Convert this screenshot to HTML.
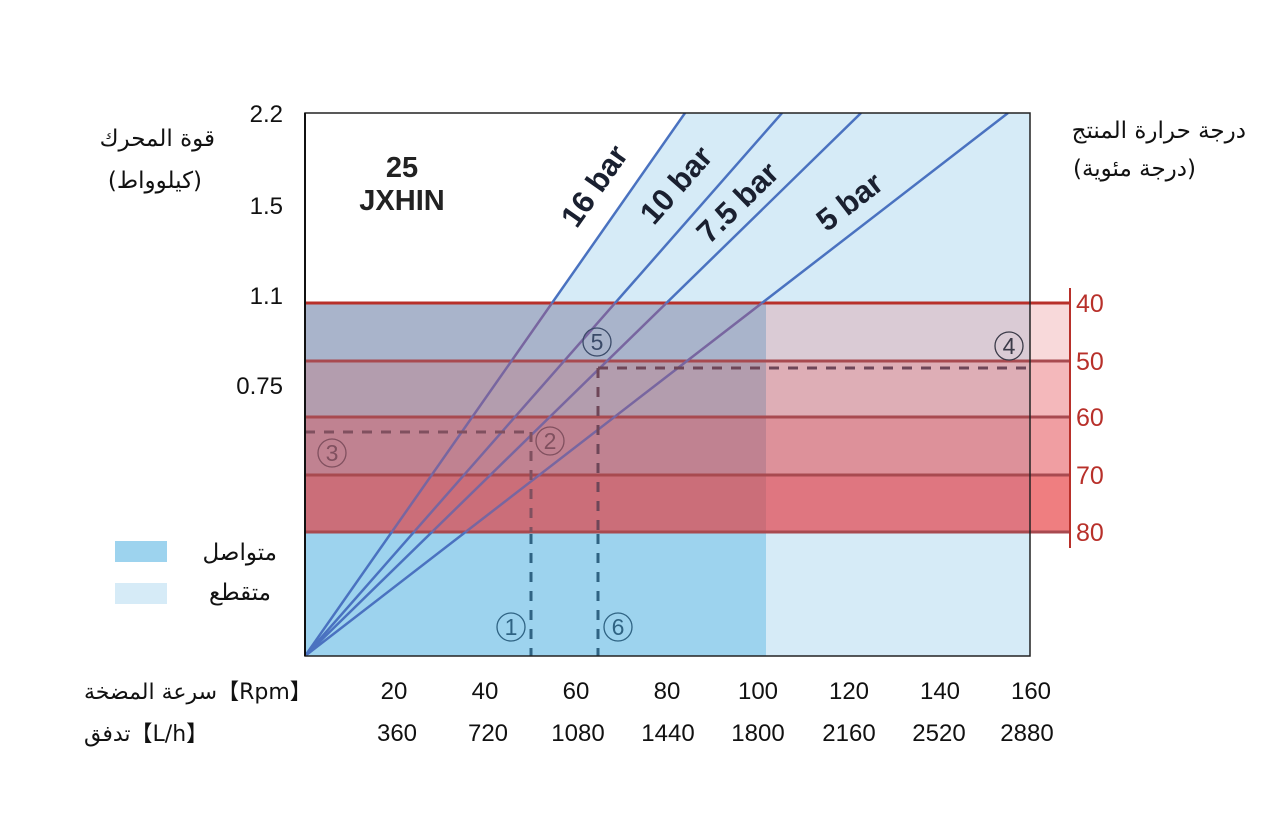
<!DOCTYPE html>
<html><head><meta charset="utf-8"><style>
html,body{margin:0;padding:0;background:#fff;}
svg{display:block;}
text{font-family:"Liberation Sans","DejaVu Sans",sans-serif;}
</style></head><body>
<svg width="1266" height="836" viewBox="0 0 1266 836" xmlns="http://www.w3.org/2000/svg">
<defs>
<clipPath id="pc"><rect x="305" y="113" width="725" height="543"/></clipPath>
<clipPath id="bandc"><rect x="305" y="303" width="725" height="229"/></clipPath>
<clipPath id="nobandc"><path d="M305 113H1030V303H305Z M305 532H1030V656H305Z"/></clipPath>
</defs>
<polygon points="305,656 685,113 1030,113 1030,656" fill="#d6ebf7"/>
<rect x="305" y="303" width="461" height="353" fill="#9dd3ee"/>
<rect x="305" y="303" width="461" height="58" fill="#a9b4cb"/>
<rect x="305" y="361" width="461" height="56" fill="#b39dae"/>
<rect x="305" y="417" width="461" height="58" fill="#c08291"/>
<rect x="305" y="475" width="461" height="57" fill="#cb6e79"/>
<rect x="766" y="303" width="264" height="58" fill="#dacbd5"/>
<rect x="766" y="361" width="264" height="56" fill="#deaeb6"/>
<rect x="766" y="417" width="264" height="58" fill="#dd919a"/>
<rect x="766" y="475" width="264" height="57" fill="#df7680"/>
<rect x="1030" y="303" width="40" height="58" fill="#f8d9da"/>
<rect x="1030" y="361" width="40" height="56" fill="#f4b8bb"/>
<rect x="1030" y="417" width="40" height="58" fill="#f09ea2"/>
<rect x="1030" y="475" width="40" height="57" fill="#ef7e80"/>
<g stroke-width="3">
<line x1="305" y1="303" x2="1070" y2="303" stroke="#b8302a"/>
<line x1="305" y1="361" x2="1070" y2="361" stroke="#a84a50"/>
<line x1="305" y1="417" x2="1070" y2="417" stroke="#a84a50"/>
<line x1="305" y1="475" x2="1070" y2="475" stroke="#a84a50"/>
<line x1="305" y1="532" x2="1070" y2="532" stroke="#a84a50"/>
</g>
<line x1="1070" y1="288" x2="1070" y2="548" stroke="#b8302a" stroke-width="2"/>
<g clip-path="url(#pc)" stroke-width="2.5" fill="none">
<g clip-path="url(#nobandc)" stroke="#4a72c0">
<line x1="305" y1="656" x2="685" y2="113"/>
<line x1="305" y1="656" x2="782" y2="113"/>
<line x1="305" y1="656" x2="861" y2="113"/>
<line x1="305" y1="656" x2="1008" y2="113"/>
</g>
<g clip-path="url(#bandc)" stroke="#7866a0">
<line x1="305" y1="656" x2="685" y2="113"/>
<line x1="305" y1="656" x2="782" y2="113"/>
<line x1="305" y1="656" x2="861" y2="113"/>
<line x1="305" y1="656" x2="1008" y2="113"/>
</g>
</g>
<g stroke-width="3" stroke-dasharray="10,9" fill="none">
<line x1="305" y1="432" x2="531" y2="432" stroke="#80505f"/>
<line x1="531" y1="432" x2="531" y2="532" stroke="#80505f"/>
<line x1="531" y1="534" x2="531" y2="656" stroke="#2f6383"/>
<line x1="598" y1="368" x2="1030" y2="368" stroke="#6e4658"/>
<line x1="598" y1="368" x2="598" y2="532" stroke="#6e4658"/>
<line x1="598" y1="534" x2="598" y2="656" stroke="#2f6383"/>
</g>
<rect x="305" y="113" width="725" height="543" fill="none" stroke="#222" stroke-width="1.5"/>
<line x1="305" y1="113" x2="305" y2="656" stroke="#111" stroke-width="2"/>
<g fill="none" stroke-width="1.3" font-size="23" text-anchor="middle">
<circle cx="511" cy="627" r="14" stroke="#2f6383"/><text x="511" y="635" fill="#2f6383" stroke="none">1</text>
<circle cx="618" cy="627" r="14" stroke="#2f6383"/><text x="618" y="635" fill="#2f6383" stroke="none">6</text>
<circle cx="550" cy="441" r="14" stroke="#80505f"/><text x="550" y="449" fill="#80505f" stroke="none">2</text>
<circle cx="332" cy="453" r="14" stroke="#80505f"/><text x="332" y="461" fill="#80505f" stroke="none">3</text>
<circle cx="597" cy="342" r="14" stroke="#3a4a68"/><text x="597" y="350" fill="#3a4a68" stroke="none">5</text>
<circle cx="1009" cy="346" r="14" stroke="#3a3a48"/><text x="1009" y="354" fill="#3a3a48" stroke="none">4</text>
</g>
<g font-size="31" font-weight="bold" fill="#1a2030" text-anchor="middle">
<text transform="translate(603,192) rotate(-55)">16 bar</text>
<text transform="translate(684,192) rotate(-48.7)">10 bar</text>
<text transform="translate(745,210) rotate(-44.4)">7.5 bar</text>
<text transform="translate(856,210) rotate(-37.7)">5 bar</text>
</g>
<text x="402" y="177" font-size="29" font-weight="bold" text-anchor="middle" fill="#222">25</text>
<text x="402" y="210" font-size="29" font-weight="bold" text-anchor="middle" fill="#222">JXHIN</text>
<g font-size="24" fill="#111" text-anchor="end">
<text x="283" y="122">2.2</text>
<text x="283" y="214">1.5</text>
<text x="283" y="304">1.1</text>
<text x="283" y="394">0.75</text>
</g>
<g font-size="23" fill="#111" direction="rtl">
<text x="215" y="146" style="font-family:'DejaVu Sans',sans-serif">قوة المحرك</text>
<text x="202" y="188" style="font-family:'DejaVu Sans',sans-serif">(كيلوواط)</text>
<text x="1246" y="138" style="font-family:'DejaVu Sans',sans-serif">درجة حرارة المنتج</text>
<text x="1196" y="176" style="font-family:'DejaVu Sans',sans-serif">(درجة مئوية)</text>
</g>
<g font-size="25" fill="#b8302a">
<text x="1076" y="312">40</text>
<text x="1076" y="370">50</text>
<text x="1076" y="426">60</text>
<text x="1076" y="484">70</text>
<text x="1076" y="541">80</text>
</g>
<rect x="115" y="541" width="52" height="21" fill="#9dd3ee"/>
<rect x="115" y="583" width="52" height="21" fill="#d6ebf7"/>
<g font-size="23" fill="#111" direction="rtl">
<text x="277" y="560" style="font-family:'DejaVu Sans',sans-serif">متواصل</text>
<text x="271" y="600" style="font-family:'DejaVu Sans',sans-serif">متقطع</text>
</g>
<g font-size="22" fill="#111">
<text x="84" y="699" style="font-family:'DejaVu Sans',sans-serif" direction="ltr">سرعة المضخة【Rpm】</text>
<text x="84" y="741" style="font-family:'DejaVu Sans',sans-serif" direction="ltr">تدفق【L/h】</text>
</g>
<g font-size="24" fill="#111" text-anchor="middle">
<text x="394" y="699">20</text><text x="485" y="699">40</text><text x="576" y="699">60</text><text x="667" y="699">80</text>
<text x="758" y="699">100</text><text x="849" y="699">120</text><text x="940" y="699">140</text><text x="1031" y="699">160</text>
<text x="397" y="741">360</text><text x="488" y="741">720</text><text x="578" y="741">1080</text><text x="668" y="741">1440</text>
<text x="758" y="741">1800</text><text x="849" y="741">2160</text><text x="939" y="741">2520</text><text x="1027" y="741">2880</text>
</g>
</svg>
</body></html>
